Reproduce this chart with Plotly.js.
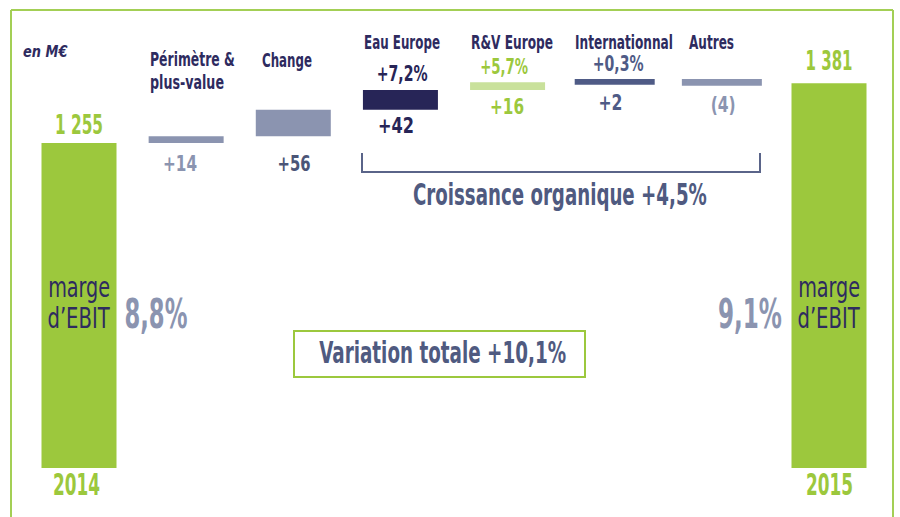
<!DOCTYPE html>
<html>
<head>
<meta charset="utf-8">
<script src="https://cdn.plot.ly/plotly-3.0.1.min.js"></script>
<style>html,body{margin:0;padding:0;background:#fff;}#chart{width:900px;height:517px;}</style>
</head>
<body>
<div id="chart"></div>
<script>
// ---- data ----
const categories = ['2014', 'Périmètre &<br>plus-value', 'Change', 'Eau Europe', 'R&V Europe', 'Internationnal', 'Autres', '2015'];
const startValue = 1255;
const endValue = 1381;
const deltas = [14, 56, 42, 16, 2, -4];
const pctLabels = ['', '', '+7,2%', '+5,7%', '+0,3%', ''];
const marginLabels = ['8,8%', '9,1%'];
const growthLabel = 'Croissance organique +4,5%';
const totalLabel = 'Variation totale +10,1%';
const unitLabel = 'en M€';
const innerLabel = ['marge', 'd’EBIT'];

// ---- styles ----
const F = "'DejaVu Sans Condensed', 'DejaVu Sans', sans-serif";
const GREEN = '#9cc83d', LGREEN = '#c9e19b', NAVY = '#272557', SLATE = '#4f5b86', GRAY = '#8b94b0';
const TXT = '#2e2b5f', TXT2 = '#4f5a80', FRAME = '#a3cf55';
const barColors = [GREEN, GRAY, GRAY, NAVY, LGREEN, SLATE, GRAY, GREEN];
const lineW = [0, 0, 0, 0, 0, 5, 5, 0];
const valColors = [GRAY, '#4b5577', NAVY, GREEN, SLATE, GRAY];

// geometry
const W = 900, H = 517, ML = 11, MR = 7, MT = 10, MB = 49;
const PW = W - ML - MR, PH = H - MT - MB;
const px = x => (x - ML) / PW;
const py = y => (H - MB - y) / PH;

// build waterfall
const xs = [], ys = [], bases = [];
xs.push(0); ys.push(startValue); bases.push(0);
let cum = startValue;
deltas.forEach((d, i) => { xs.push(i + 1); ys.push(d); bases.push(cum); cum += d; });
xs.push(7); ys.push(endValue); bases.push(0);

const fmt = v => String(v).replace(/\B(?=(\d{3})+(?!\d))/g, ' ');
const fmtD = d => d >= 0 ? '+' + d : '(' + (-d) + ')';

const trace = {
  type: 'bar', x: xs, y: ys, base: bases, width: 0.70,
  marker: { color: barColors, line: { color: barColors, width: lineW } },
  hoverinfo: 'none', showlegend: false
};

const ann = [];
const targetW = [];
function A(text, x, y, size, color, tw, opts) {
  const o = opts || {};
  ann.push({ text: text, xref: 'paper', yref: 'paper', x: px(x), y: py(y),
    xanchor: o.xanchor || 'center', yanchor: 'middle', showarrow: false,
    font: { family: F, size: size, color: color, weight: o.weight || 'bold', style: o.style || 'normal' } });
  targetW.push({ w: tw, anchor: o.xanchor || 'center' });
}
// unit
A(unitLabel, 21, 52, 16.5, TXT, 45, { xanchor: 'left', style: 'italic' });
// category labels
const cat1 = categories[1].split('<br>');
A(cat1[0], 148, 59, 19, TXT, 85, { xanchor: 'left' });
A(cat1[1], 148, 82, 19, TXT, 74, { xanchor: 'left' });
A(categories[2], 260, 60, 19, TXT, 50, { xanchor: 'left' });
A(categories[3], 362, 42, 19, TXT, 76, { xanchor: 'left' });
A(categories[4], 469, 42, 19, TXT, 82, { xanchor: 'left' });
A(categories[5], 573, 42, 19, TXT, 98, { xanchor: 'left' });
A(categories[6], 687, 42, 19, TXT, 45, { xanchor: 'left' });
// delta labels
const valY = [163.5, 163.5, 126, 107, 103.5, 104.5];
const valX = [180, 293.5, 396, 507, 610, 722.5];
const valW = [34, 33, 36, 34, 24, 25];
deltas.forEach((d, i) => A(fmtD(d), valX[i], valY[i], 21, valColors[i], valW[i]));
const pctY = [0, 0, 74.5, 67, 64, 0];
const pctX = [0, 0, 401.5, 504, 617.5, 0];
const pctW = [0, 0, 51, 48, 51, 0];
const pctColors = ['', '', NAVY, GREEN, SLATE, ''];
pctLabels.forEach((p, i) => { if (p) A(p, pctX[i], pctY[i], 21, pctColors[i], pctW[i]); });
// totals
A(fmt(startValue), 79, 125, 27, GREEN, 48);
A(fmt(endValue), 828.5, 61, 27, GREEN, 47);
A(categories[0], 76.5, 484, 30, GREEN, 47);
A(categories[7], 829.5, 484, 30, GREEN, 47);
// inner labels
A(innerLabel[0], 79, 287, 29, TXT, 62, { weight: 'normal' });
A(innerLabel[1], 79, 318, 29, TXT, 63, { weight: 'normal' });
A(innerLabel[0], 829, 287, 29, TXT, 62, { weight: 'normal' });
A(innerLabel[1], 829, 318, 29, TXT, 63, { weight: 'normal' });
// margins
A(marginLabels[0], 155.5, 313.5, 40, GRAY, 63);
A(marginLabels[1], 750, 313.5, 40, GRAY, 64);
// growth & total
A(growthLabel, 560, 194, 30, TXT2, 294);
A(totalLabel, 442.5, 352.5, 30, TXT2, 247);

const shapes = [
  // frame
  { type: 'line', xref: 'paper', yref: 'paper', x0: px(11), x1: px(11), y0: py(10), y1: py(520), line: { color: FRAME, width: 2 } },
  { type: 'line', xref: 'paper', yref: 'paper', x0: px(11), x1: px(893), y0: py(10), y1: py(10), line: { color: FRAME, width: 2 } },
  { type: 'line', xref: 'paper', yref: 'paper', x0: px(893), x1: px(893), y0: py(10), y1: py(520), line: { color: FRAME, width: 2 } },
  // bracket
  { type: 'path', xref: 'paper', yref: 'paper',
    path: 'M' + px(362) + ',' + py(153) + ' L' + px(362) + ',' + py(172) + ' L' + px(760) + ',' + py(172) + ' L' + px(760) + ',' + py(153),
    line: { color: '#5a6489', width: 2 } },
  // total box
  { type: 'rect', xref: 'paper', yref: 'paper', x0: px(294), x1: px(585), y0: py(377), y1: py(331),
    line: { color: GREEN, width: 2 }, fillcolor: 'rgba(0,0,0,0)' }
];

const layout = {
  width: W, height: H,
  margin: { l: ML, r: MR, t: MT, b: MB, pad: 0 },
  paper_bgcolor: '#fff', plot_bgcolor: '#fff',
  xaxis: { range: [(ML - 79) / 107.14, 7 + (893 - 829) / 107.14], visible: false, fixedrange: true },
  yaxis: { range: [569, 1535.7], visible: false, fixedrange: true },
  annotations: ann, shapes: shapes, showlegend: false, bargap: 0
};

// condense annotation text horizontally to mimic the narrow typeface
function condense(gd) {
  const groups = gd.querySelectorAll('g.annotation');
  groups.forEach(g => {
    const i = +g.getAttribute('data-index');
    const t = g.querySelector('text.annotation-text');
    const spec = targetW[i];
    if (!t || !spec) return;
    const bb = t.getBBox();
    if (!bb.width) return;
    const s = spec.w / bb.width;
    const cx = spec.anchor === 'left' ? bb.x : bb.x + bb.width / 2;
    const prev = t.getAttribute('transform') || '';
    t.setAttribute('transform', (prev ? prev + ' ' : '') +
      'translate(' + cx + ',0) scale(' + s + ',1) translate(' + (-cx) + ',0)');
  });
}

Plotly.newPlot('chart', [trace], layout, { staticPlot: true, displayModeBar: false })
  .then(gd => condense(gd));
</script>
</body>
</html>
